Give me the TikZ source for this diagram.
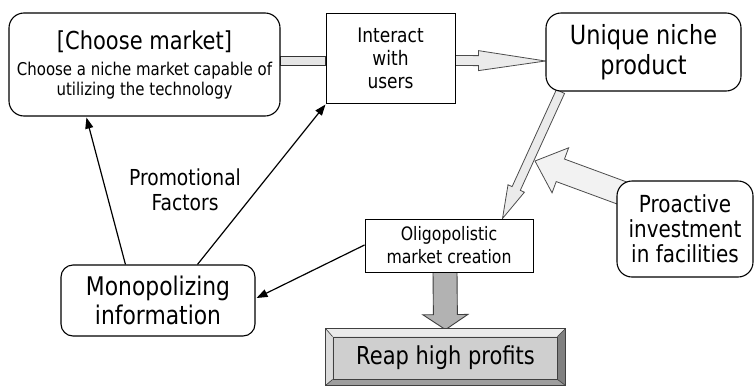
\documentclass[tikz,border=0pt]{standalone}
\usepackage{fontspec}
\setmainfont{DejaVu Sans}[FakeStretch=0.85]
\usetikzlibrary{calc,arrows.meta,backgrounds}
\newcommand\fsz[2]{\fontsize{#1pt}{#2pt}\selectfont}
% block arrow: #1 start, #2 tip, #3 shaft half width, #4 head half width, #5 head length, #6 style
\newcommand\blockarrow[6]{%
  \coordinate (ba-base) at ($(#2)!#5!(#1)$);
  \path[#6] ($(#1)!#3!90:(#2)$) -- ($(ba-base)!#3!90:(#2)$) -- ($(ba-base)!#4!90:(#2)$)
    -- (#2) -- ($(ba-base)!#4!-90:(#2)$) -- ($(ba-base)!#3!-90:(#2)$)
    -- ($(#1)!#3!-90:(#2)$) -- cycle;
}
\tikzset{
  box/.style={draw=black, line width=1.1pt, fill=white, inner sep=0pt, align=center, text=black},
  roundbox/.style={box, rounded corners=15pt},
  squarebox/.style={box, line width=1pt},
  lightarrow/.style={draw=black!70, line width=0.8pt, fill=black!8, line join=miter},
  paleshaft/.style={draw=black!70, line width=0.8pt, fill=black!5, line join=miter},
  grayarrow/.style={draw=black!75, line width=0.9pt, fill=black!30, line join=miter},
  band/.style={draw=black!80, line width=0.9pt, fill=black!10},
  link/.style={draw=black, line width=1.2pt, -{Triangle[length=11pt,width=8pt]}},
}
\begin{document}
\begin{tikzpicture}[x=1pt,y=-1pt]
\useasboundingbox (0,0) rectangle (754,386);

% boxes
\node[roundbox, minimum width=271pt, minimum height=103pt, font=\fsz{17.6}{20}] (choose) at (144.5,64.5)
  {\fsz{24.7}{26}[Choose market]\\[6pt]
   Choose a niche market capable of\\ utilizing the technology};
\node[squarebox, minimum width=129pt, minimum height=90pt, font=\fsz{20}{23}] (interact) at (390.5,58)
  {Interact\\ with\\ users};
\node[roundbox, minimum width=195pt, minimum height=78pt, font=\fsz{26.4}{30}] (unique) at (643.5,52)
  {Unique niche\\ product};
\node[squarebox, minimum width=168pt, minimum height=53pt, font=\fsz{18.5}{23}] (oligo) at (449,245.5)
  {Oligopolistic\\ market creation};
\node[roundbox, minimum width=136pt, minimum height=96pt, font=\fsz{23.5}{25}] (proactive) at (685,229)
  {Proactive\\ investment\\ in facilities};
\node[roundbox, rounded corners=12pt, minimum width=194pt, minimum height=71pt, font=\fsz{25.7}{29}] (monop) at (158,300.5)
  {Monopolizing\\ information};
\node[align=center, inner sep=0pt, font=\fsz{22}{25}] (promo) at (185,190)
  {Promotional\\ Factors};

% bevelled result button
\node[draw=black!75, line width=0.8pt, fill=black!20, minimum width=239pt, minimum height=56pt, inner sep=0pt] (reap) at (445.5,357) {};
\fill[black!8] (reap.north west) -- (reap.north east) -- ($(reap.north east)+(-8,8)$) -- ($(reap.north west)+(7,8)$) -- cycle;
\fill[black!14] (reap.north west) -- ($(reap.north west)+(7,8)$) -- ($(reap.south west)+(7,-6)$) -- (reap.south west) -- cycle;
\fill[black!50] (reap.north east) -- ($(reap.north east)+(-8,8)$) -- ($(reap.south east)+(-8,-6)$) -- (reap.south east) -- cycle;
\fill[black!38] (reap.south west) -- ($(reap.south west)+(7,-6)$) -- ($(reap.south east)+(-8,-6)$) -- (reap.south east) -- cycle;
\draw[black!75, line width=0.6pt] (reap.north west) -- ($(reap.north west)+(7,8)$)
  (reap.north east) -- ($(reap.north east)+(-8,8)$)
  (reap.south west) -- ($(reap.south west)+(7,-6)$)
  (reap.south east) -- ($(reap.south east)+(-8,-6)$);
\draw[black!75, line width=0.8pt] (reap.north west) rectangle (reap.south east);
\node[draw=black!75, line width=0.8pt, fill=black!19, minimum width=224pt, minimum height=42pt, inner sep=0pt, font=\fsz{24.7}{25}] (reapface) at ($(reap.center)+(0,1)$)
  {Reap high profits};

% wide connectors, drawn behind the boxes
\begin{scope}[on background layer]
  \draw[band] ($(choose.east)+(0,-8.5)$) rectangle ($(interact.west)+(0,7)$);
  \coordinate (ia-s) at ($(interact.east)+(0,2.5)$);
  \coordinate (ia-t) at ($(unique.west)+(0,9)$);
  \blockarrow{ia-s}{ia-t}{5pt}{10pt}{67pt}{lightarrow}
  \coordinate (uo-s) at ($(unique.south west)+(15,0)$);
  \coordinate (uo-t) at ($(oligo.north east)+(-31,0)$);
  \blockarrow{uo-s}{uo-t}{4.5pt}{9pt}{33pt}{lightarrow}
  \coordinate (pi-s) at ($(proactive.west)+(15,-32.5)$);
  \coordinate (pi-t) at (535,161);
  \blockarrow{pi-s}{pi-t}{12pt}{24pt}{27pt}{paleshaft}
  \coordinate (or-s) at ($(oligo.south)+(-4,-1)$);
  \coordinate (or-t) at ($(reap.north)+(0,1)$);
  \blockarrow{or-s}{or-t}{12pt}{22.5pt}{15pt}{grayarrow}
\end{scope}

% thin connectors
\draw[link] ($(monop.north west)+(65,0)$) -- ($(choose.south west)+(78,1)$);
\draw[link] ($(monop.north west)+(137,0)$) -- ($(interact.south west)+(0,1)$);
\draw[link] ($(oligo.west)+(0,-0.5)$) -- ($(monop.east)+(1,-2.5)$);
\end{tikzpicture}
\end{document}
